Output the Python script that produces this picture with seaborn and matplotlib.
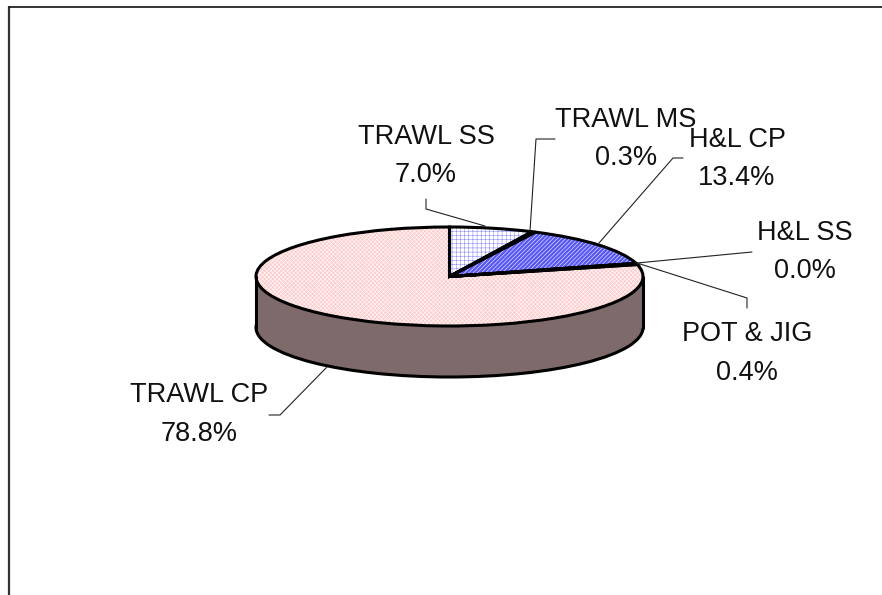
"""Gear share pie drawn as a stretched 3D-look disc, styled through seaborn."""

import matplotlib
matplotlib.use("Agg")
import matplotlib.pyplot as plt
import seaborn as sns
from matplotlib.patches import Rectangle

# chart values
gear_types = ["TRAWL SS", "TRAWL MS", "H&L CP", "H&L SS", "POT & JIG", "TRAWL CP"]
catch_share = [7.0, 0.3, 13.4, 0.0, 0.4, 78.8]

# label anchors in image pixels: centre x, baseline of name, baseline of value
label_pos = [
    (426, 144, 182),
    (626, 127, 165),
    (737, 147, 185),
    (805, 240, 278),
    (747, 341, 380),
    (199, 402, 441),
]

# leader lines in image pixels, same order as gear_types
leaders = [
    [(426, 199), (426, 209), (485, 226)],
    [(555, 139), (536, 139), (530, 231)],
    [(683, 158), (673, 158), (599, 243)],
    [(752, 252), (637, 263)],
    [(747, 308), (747, 298), (637, 263)],
    [(269, 415), (280, 415), (327, 367)],
]

W, H = 882, 595
DISC_LEFT, DISC_RIGHT, DISC_TOP, DISC_BOTTOM = 256, 643, 227, 326
WALL_DEPTH = 51

sns.set_theme(style="white", rc={"hatch.linewidth": 0.4})
plt.rcParams["font.family"] = ["Liberation Sans", "DejaVu Sans"]

palette = sns.color_palette(["#FFFFFF", "#5656FF", "#5656FF", "#5656FF", "#5656FF", "#FFCCCC"])
hatch_colors = ["#8C8CFF", "white", "white", "white", "white", "white"]
hatches = ["++++", "////////", "////////", "////////", "////////", "xxxxxxxx"]
wall_color = "#7E6A6A"

fig = plt.figure(figsize=(W / 100, H / 100), dpi=100, facecolor="white")

# the axes box is the disc's bounding box, so the unit pie becomes an ellipse
disc_h = DISC_BOTTOM - DISC_TOP
ax = fig.add_axes([DISC_LEFT / W, 1 - DISC_BOTTOM / H, (DISC_RIGHT - DISC_LEFT) / W, disc_h / H])
depth = 2 * WALL_DEPTH / disc_h

# side wall: lower copy of the disc joined by a band
ax.pie([1], center=(0, -depth), colors=[wall_color], startangle=0,
       wedgeprops={"edgecolor": "black", "linewidth": 2.2, "clip_on": False})
ax.add_patch(Rectangle((-1, -depth), 2, depth, facecolor=wall_color, edgecolor="none", clip_on=False))
ax.plot([-1, -1], [-depth, 0], color="black", lw=2.2, clip_on=False)
ax.plot([1, 1], [-depth, 0], color="black", lw=2.2, clip_on=False)

# top face: textured fill first, then the black outline
fills, _ = ax.pie(catch_share, startangle=90, counterclock=False, colors=palette,
                  wedgeprops={"linewidth": 0, "clip_on": False})
for wedge, hatch, hatch_color in zip(fills, hatches, hatch_colors):
    wedge.set_hatch(hatch)
    wedge.set_edgecolor(hatch_color)
ax.pie(catch_share, startangle=90, counterclock=False,
       wedgeprops={"fill": False, "edgecolor": "black", "linewidth": 2.2, "clip_on": False})

ax.set_aspect("auto")
ax.set_xlim(-1, 1)
ax.set_ylim(-1, 1)

# overlay in image pixels for frame, leaders and labels
over = fig.add_axes([0, 0, 1, 1], facecolor="none")
over.set_xlim(0, W)
over.set_ylim(H, 0)
over.axis("off")

over.plot([9, 9], [H, 6], color="#333333", lw=1.6, solid_capstyle="butt")
over.plot([9, W], [6.5, 6.5], color="#111111", lw=1.2, solid_capstyle="butt")

for line in leaders:
    over.plot([p[0] for p in line], [p[1] for p in line], color="#222222", lw=0.8)

for name, share, (cx, y_name, y_value) in zip(gear_types, catch_share, label_pos):
    over.text(cx, y_name, name, ha="center", va="baseline", fontsize=19.5, color="#111111")
    over.text(cx, y_value, f"{share:.1f}%", ha="center", va="baseline", fontsize=19.5, color="#111111")

fig.savefig("out.png", dpi=100)
plt.close(fig)
